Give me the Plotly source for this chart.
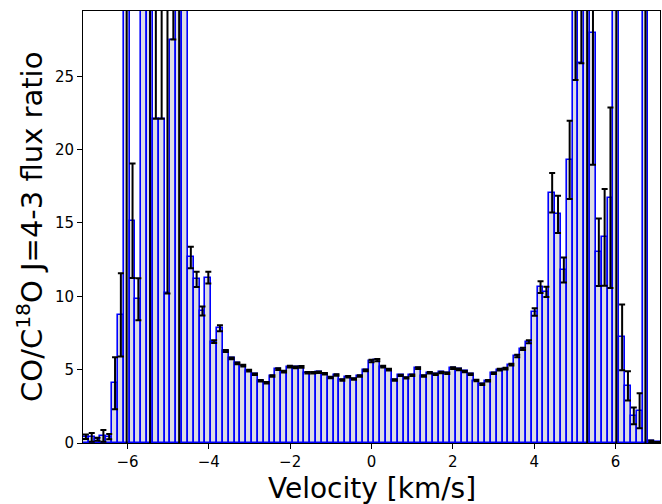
import plotly.graph_objects as go

pos = [0.143, 0.287, 0.430, 0.573, 0.717, 0.860, 1.003, 1.146, 1.290, 1.433,
       1.576, 1.720, 1.863, 2.006, 2.150, 2.293, 2.436, 2.579, 2.723, 2.866,
       3.009, 3.153, 3.296, 3.439, 3.583, 3.726, 3.869, 4.012, 4.156, 4.299,
       4.442, 4.586, 4.729, 4.872, 5.016, 5.159, 5.302, 5.445, 5.589, 5.732,
       5.875, 6.019, 6.162, 6.305, 6.449, 6.592, 6.735, 6.878, 7.022]
velocity = [-v for v in reversed(pos)] + [0.0] + pos

ratio = [
    0.43, 0.38, 0.25, 0.48, 0.43, 4.07, 8.73, 40.0, 15.15, 9.8,
    60.0, 40.0, 22.1, 22.1, 10.2, 27.5, 40.0, 60.0, 12.65, 11.15,
    9.0, 11.27, 6.91, 7.82, 6.27, 5.77, 5.43, 5.27, 4.93, 4.68,
    4.25, 4.11, 4.57, 5.03, 4.86, 5.2, 5.16, 5.19, 4.79, 4.79,
    4.82, 4.72, 4.46, 4.64, 4.29, 4.52, 4.37, 4.57, 4.95, 5.59,
    5.65, 5.2, 5.01, 4.29, 4.61, 4.44, 4.62, 5.1, 4.57, 4.79,
    4.69, 4.81, 4.75, 5.1, 5.02, 4.88, 4.68, 4.26, 4.0, 4.25,
    4.75, 5.0, 5.07, 5.34, 5.93, 6.42, 6.9, 8.93, 10.63, 10.3,
    17.06, 15.59, 11.79, 19.3, 45.0, 25.88, 40.0, 27.97, 13.0, 14.02,
    16.72, 40.0, 7.2, 3.89, 1.85, 2.2, 40.0, 0.12, 0.05,
]

err_plus = [
    0.15, 0.3, 0.1, 0.4, 0.18, 1.77, 2.84, 45.0, 3.9, 1.43,
    5.0, 45.0, 40.0, 40.0, 40.0, 40.0, 45.0, 5.0, 0.73, 0.52,
    0.3, 0.4, 0.1, 0.2, 0.07, 0.06, 0.06, 0.06, 0.06, 0.05,
    0.05, 0.05, 0.05, 0.06, 0.06, 0.06, 0.06, 0.06, 0.05, 0.05,
    0.05, 0.05, 0.05, 0.05, 0.05, 0.05, 0.05, 0.05, 0.06, 0.08,
    0.08, 0.06, 0.06, 0.05, 0.05, 0.05, 0.05, 0.06, 0.05, 0.05,
    0.05, 0.05, 0.05, 0.06, 0.06, 0.05, 0.05, 0.05, 0.05, 0.05,
    0.05, 0.06, 0.06, 0.06, 0.08, 0.08, 0.1, 0.25, 0.4, 0.35,
    1.35, 1.27, 0.85, 2.66, 20.0, 40.0, 45.0, 9.0, 2.3, 3.3,
    6.15, 45.0, 2.24, 1.0, 0.57, 1.2, 45.0, 0.05, 0.02,
]

err_minus = [
    0.15, 0.3, 0.1, 0.4, 0.18, 1.77, 2.84, 45.0, 3.9, 1.43,
    5.0, 45.0, 0.0, 0.0, 0.0, 0.0, 45.0, 5.0, 0.73, 0.52,
    0.3, 0.4, 0.1, 0.2, 0.07, 0.06, 0.06, 0.06, 0.06, 0.05,
    0.05, 0.05, 0.05, 0.06, 0.06, 0.06, 0.06, 0.06, 0.05, 0.05,
    0.05, 0.05, 0.05, 0.05, 0.05, 0.05, 0.05, 0.05, 0.06, 0.08,
    0.08, 0.06, 0.06, 0.05, 0.05, 0.05, 0.05, 0.06, 0.05, 0.05,
    0.05, 0.05, 0.05, 0.06, 0.06, 0.05, 0.05, 0.05, 0.05, 0.05,
    0.05, 0.06, 0.06, 0.06, 0.08, 0.08, 0.1, 0.25, 0.4, 0.35,
    1.35, 1.27, 0.85, 2.66, 20.26, 0.0, 45.0, 9.0, 2.3, 3.3,
    6.15, 45.0, 2.24, 1.0, 0.57, 1.2, 45.0, 0.05, 0.02,
]

x_ticks = [-6, -4, -2, 0, 2, 4, 6]
y_ticks = [0, 5, 10, 15, 20, 25]
channel_width = 0.1433

FONT = "DejaVu Sans"

fig = go.Figure()
fig.add_trace(go.Bar(
    x=velocity,
    y=ratio,
    width=channel_width,
    marker=dict(color="#dcdce4", line=dict(color="#0000ff", width=1.6)),
    error_y=dict(type="data", symmetric=False, array=err_plus,
                 arrayminus=err_minus, color="black", thickness=2, width=3),
    hoverinfo="x+y",
))

axis_common = dict(
    showgrid=False, zeroline=False, showline=True, linecolor="black",
    linewidth=1, mirror=True, ticks="outside", ticklen=5, tickwidth=1,
    tickcolor="black", tickfont=dict(family=FONT, size=15, color="black"),
)

fig.update_layout(
    width=662, height=504,
    margin=dict(l=83, r=2, t=11, b=61),
    plot_bgcolor="white", paper_bgcolor="white",
    bargap=0, showlegend=False,
    font=dict(family=FONT, color="black"),
    xaxis=dict(range=[-7.093, 7.093], tickvals=x_ticks, **axis_common),
    yaxis=dict(range=[0, 29.45], tickvals=y_ticks, **axis_common),
    annotations=[
        dict(text="Velocity [km/s]", xref="paper", yref="paper",
             x=0.5, y=-0.105, xanchor="center", yanchor="middle",
             showarrow=False, font=dict(family=FONT, size=28, color="black")),
        dict(text="CO/C<sup>18</sup>O J=4-3 flux ratio", xref="paper",
             yref="paper", x=-0.092, y=0.5, xanchor="center",
             yanchor="middle", textangle=-90, showarrow=False,
             font=dict(family=FONT, size=29, color="black")),
    ],
)

fig.write_html("out.html")
